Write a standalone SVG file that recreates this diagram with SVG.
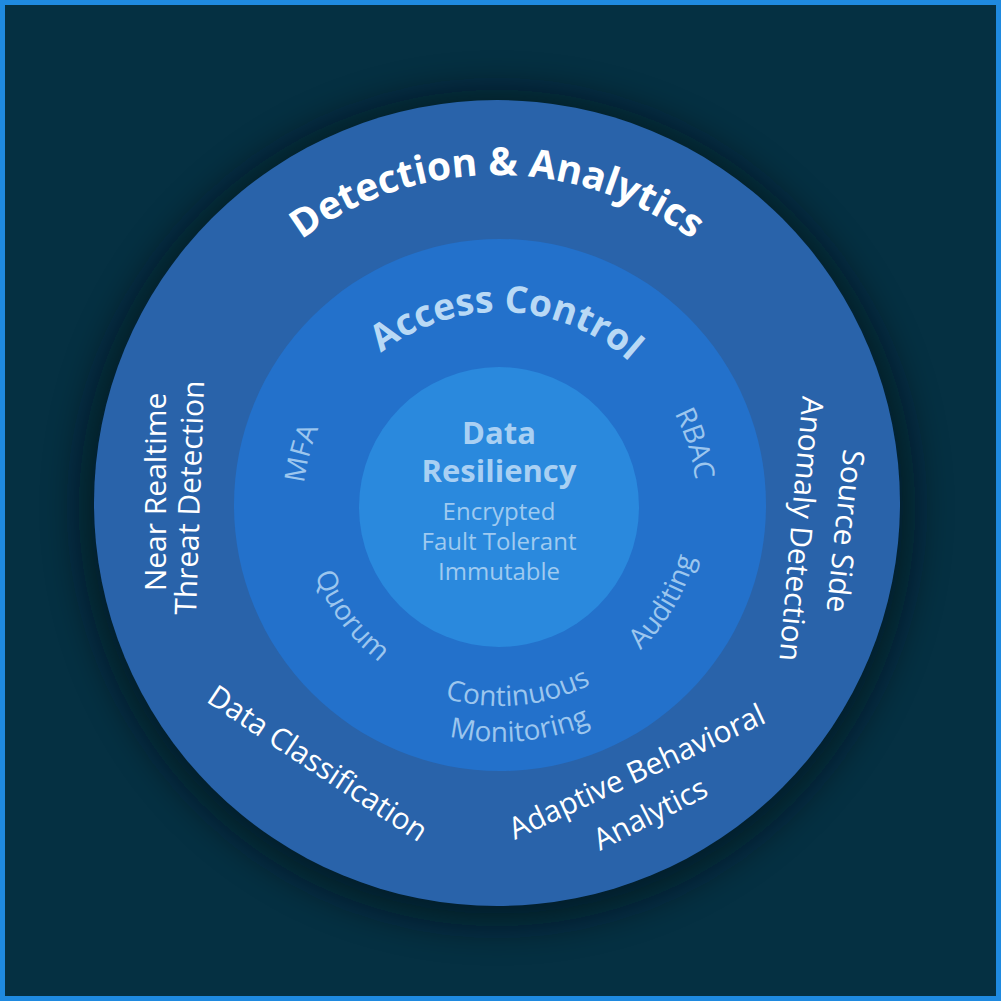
<svg xmlns="http://www.w3.org/2000/svg" xmlns:xlink="http://www.w3.org/1999/xlink" width="1001" height="1001" viewBox="0 0 1001 1001">
  <style>
    .t { font-family: "Open Sans", "Noto Sans", "Liberation Sans", sans-serif; }
    .outerTitle { font-size: 39px; font-weight: 700; fill: #ffffff; }
    .outerLbl { font-size: 30px; font-weight: 400; fill: #ffffff; text-anchor: middle; }
    .midTitle { font-size: 37px; font-weight: 700; fill: #b9d9f5; }
    .midLbl { font-size: 28px; font-weight: 400; fill: #9cc6ee; }
    .coreTitle { font-size: 31px; font-weight: 700; fill: #a9d0f3; text-anchor: middle; }
    .coreLbl { font-size: 24px; font-weight: 400; fill: #9fcaf0; text-anchor: middle; }
  </style>
  <defs>
    <filter id="shadow" x="-20%" y="-20%" width="140%" height="140%">
      <feGaussianBlur stdDeviation="18"/>
    </filter>
    <!-- outer ring title path (center 497,503) -->
    <path id="cw328" d="M169,503 A328,328 0 0 1 825,503"/>
    <!-- middle ring paths (center 500,505) -->
    <path id="cw193" d="M307,505 A193,193 0 0 1 693,505"/>
    <path id="cw197" d="M303,505 A197,197 0 0 1 697,505"/>
    <path id="cw197b" d="M303,505 A197,197 0 0 1 697,505"/>
    <path id="ccw198" d="M302,505 A198,198 0 0 0 698,505"/>
    <path id="ccw202" d="M298,505 A202,202 0 0 0 702,505"/>
    <path id="ccw201" d="M299,505 A201,201 0 0 0 701,505"/>
    <path id="ccw237" d="M263,505 A237,237 0 0 0 737,505"/>
  </defs>

  <!-- background and frame -->
  <rect x="0" y="0" width="1001" height="1001" fill="#1f8ae0"/>
  <rect x="5" y="5" width="991" height="991" fill="#053042"/>
  <circle cx="497" cy="508" r="418" fill="#010f18" opacity="0.55" filter="url(#shadow)"/>

  <g id="detection-analytics">
    <circle cx="497" cy="503" r="403" fill="#2963aa"/>
    <text class="t outerTitle"><textPath xlink:href="#cw328" href="#cw328" startOffset="50%" text-anchor="middle">Detection &amp; Analytics</textPath></text>
    <text class="t outerLbl" transform="translate(166 492) rotate(-90)">Near Realtime</text>
    <text class="t outerLbl" transform="translate(200 498) rotate(-88)">Threat Detection</text>
    <text class="t outerLbl" transform="translate(835 530) rotate(96)">Source Side</text>
    <text class="t outerLbl" transform="translate(791 528) rotate(95)">Anomaly Detection</text>
    <text class="t outerLbl" transform="translate(312 772) rotate(33.5)">Data Classification</text>
    <text class="t outerLbl" transform="translate(641 781) rotate(-25)">Adaptive Behavioral</text>
    <text class="t outerLbl" transform="translate(655 823) rotate(-27)">Analytics</text>
  </g>

  <g id="access-control">
    <circle cx="500" cy="505" r="266" fill="#2371cb"/>
    <text class="t midTitle" transform="rotate(2 500 505)"><textPath href="#cw193" xlink:href="#cw193" startOffset="50%" text-anchor="middle">Access Control</textPath></text>
    <text class="t midLbl" transform="rotate(-75.4 500 505)"><textPath href="#cw197" xlink:href="#cw197" startOffset="50%" text-anchor="middle">MFA</textPath></text>
    <text class="t midLbl" transform="rotate(72.5 500 505)"><textPath href="#cw197b" xlink:href="#cw197b" startOffset="50%" text-anchor="middle">RBAC</textPath></text>
    <text class="t midLbl" transform="rotate(53.4 500 505)"><textPath href="#ccw198" xlink:href="#ccw198" startOffset="50%" text-anchor="middle">Quorum</textPath></text>
    <text class="t midLbl" transform="rotate(-59.4 500 505)"><textPath href="#ccw202" xlink:href="#ccw202" startOffset="50%" text-anchor="middle">Auditing</textPath></text>
    <text class="t midLbl" transform="rotate(-5.5 500 505)"><textPath href="#ccw201" xlink:href="#ccw201" startOffset="50%" text-anchor="middle">Continuous</textPath></text>
    <text class="t midLbl" transform="rotate(-5 500 505)"><textPath href="#ccw237" xlink:href="#ccw237" startOffset="50%" text-anchor="middle">Monitoring</textPath></text>
  </g>

  <g id="data-resiliency">
    <circle cx="499" cy="507" r="140" fill="#2a89dd"/>
    <text class="t coreTitle" x="499" y="444">Data</text>
    <text class="t coreTitle" x="499" y="482">Resiliency</text>
    <text class="t coreLbl" x="499" y="520">Encrypted</text>
    <text class="t coreLbl" x="499" y="550">Fault Tolerant</text>
    <text class="t coreLbl" x="499" y="580">Immutable</text>
  </g>
</svg>
